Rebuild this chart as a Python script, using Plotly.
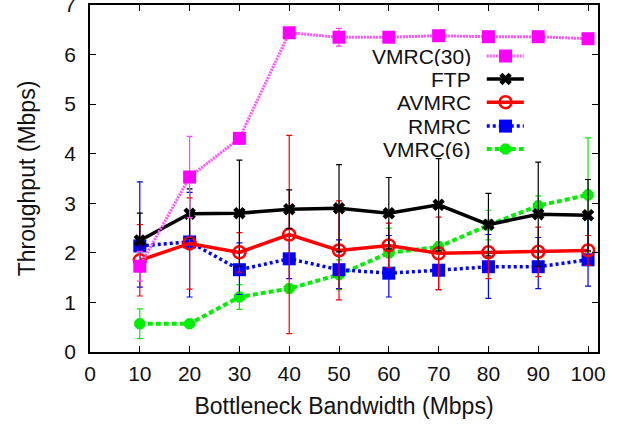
import plotly.graph_objects as go

# ---------------- data ----------------
bandwidth = [10, 20, 30, 40, 50, 60, 70, 80, 90, 100]

vmrc30 = [1.73, 3.53, 4.31, 6.44, 6.35, 6.35, 6.38, 6.36, 6.36, 6.32]
vmrc30_err = [0.30, 0.82, 0.10, 0.05, 0.18, 0.10, 0.06, 0.05, 0.05, 0.08]

ftp = [2.25, 2.79, 2.80, 2.88, 2.90, 2.80, 2.97, 2.57, 2.78, 2.76]
ftp_err = [0.55, 0.50, 1.07, 0.39, 0.88, 0.72, 0.93, 0.63, 1.05, 0.72]

avmrc = [1.85, 2.19, 2.01, 2.37, 2.05, 2.15, 1.99, 2.01, 2.02, 2.05]
avmrc_err = [0.72, 0.92, 0.40, 2.00, 1.00, 0.45, 0.73, 0.53, 0.50, 0.30]

rmrc = [2.14, 2.22, 1.66, 1.88, 1.66, 1.59, 1.65, 1.72, 1.72, 1.86]
rmrc_plus = [1.29, 1.00, 0.54, 0.47, 0.60, 0.76, 0.45, 0.65, 0.59, 0.95]
rmrc_minus = [0.83, 1.11, 0.50, 0.40, 0.38, 0.48, 0.39, 0.64, 0.44, 0.53]

vmrc6 = [0.57, 0.57, 1.11, 1.28, 1.56, 2.00, 2.12, 2.56, 2.95, 3.17]
vmrc6_err = [0.30, 0.05, 0.25, 0.05, 0.30, 0.50, 0.10, 0.30, 0.20, 1.15]

x_ticks = [0, 10, 20, 30, 40, 50, 60, 70, 80, 90, 100]
y_ticks = [0, 1, 2, 3, 4, 5, 6, 7]

FONT = "Liberation Sans, Arial, sans-serif"
TXT = "#111111"

series = [
    dict(name="VMRC(30)", y=vmrc30, plus=vmrc30_err, minus=vmrc30_err,
         color="#ff44ff", line=dict(color="#ff55ff", width=3, dash="2px,1px"),
         marker=dict(symbol="square", size=13, color="#ff00ff")),
    dict(name="FTP", y=ftp, plus=ftp_err, minus=ftp_err,
         color="#000000", line=dict(color="#000000", width=3.5),
         marker=dict(symbol="x", size=11, color="#000000")),
    dict(name="AVMRC", y=avmrc, plus=avmrc_err, minus=avmrc_err,
         color="#ff0000", line=dict(color="#ff0000", width=3.5),
         marker=dict(symbol="circle-open", size=12, color="#ff0000",
                     line=dict(width=2.5, color="#ff0000"))),
    dict(name="RMRC", y=rmrc, plus=rmrc_plus, minus=rmrc_minus,
         color="#0000ff", line=dict(color="#0000ff", width=3.5, dash="3px,3px"),
         marker=dict(symbol="square", size=13, color="#0000ff")),
    dict(name="VMRC(6)", y=vmrc6, plus=vmrc6_err, minus=vmrc6_err,
         color="#00ee00", line=dict(color="#00ee00", width=4, dash="5px,3px"),
         marker=dict(symbol="octagon", size=12, color="#00ee00")),
]

fig = go.Figure()

# draw in back-to-front order similar to the reference
for s in [series[4], series[3], series[2], series[1], series[0]]:
    fig.add_trace(go.Scatter(
        x=bandwidth, y=s["y"], mode="lines+markers", name=s["name"],
        line=s["line"], marker=s["marker"], showlegend=False,
        error_y=dict(type="data", symmetric=False, array=s["plus"],
                     arrayminus=s["minus"], color=s["color"],
                     thickness=1.2, width=3),
    ))

# ---------------- gnuplot-style legend (text left, sample right) ----------------
leg_rows = [0.853, 0.787, 0.720, 0.651, 0.585]
for s, yy in zip(series, leg_rows):
    fig.add_trace(go.Scatter(
        x=[0.781, 0.818, 0.854], y=[yy, yy, yy], xaxis="x2", yaxis="y2",
        mode="lines", line=s["line"], showlegend=False, hoverinfo="skip"))
    fig.add_trace(go.Scatter(
        x=[0.818], y=[yy], xaxis="x2", yaxis="y2",
        mode="markers", marker=s["marker"], showlegend=False, hoverinfo="skip"))
    fig.add_annotation(x=0.752, y=yy, xref="x2", yref="y2", text=s["name"],
                       showarrow=False, xanchor="right", yanchor="middle",
                       height=20, borderpad=0,
                       font=dict(family=FONT, size=21, color=TXT))

axis_common = dict(
    showline=True, linecolor="black", linewidth=1.5, mirror="ticks",
    ticks="inside", ticklen=6, tickcolor="black", tickwidth=1,
    showgrid=False, zeroline=False, ticklabeloverflow="allow",
    automargin=False,
    tickfont=dict(family=FONT, size=21, color=TXT),
)

fig.update_layout(
    width=619, height=427,
    margin=dict(l=90, r=21, t=5, b=75),
    paper_bgcolor="white", plot_bgcolor="white",
    showlegend=False,
    xaxis=dict(range=[0, 102], tickvals=x_ticks, ticklabelstandoff=2, **axis_common,
               title=dict(text="Bottleneck Bandwidth (Mbps)", standoff=14,
                          font=dict(family=FONT, size=23, color=TXT))),
    yaxis=dict(range=[0, 7], tickvals=y_ticks, ticklabelstandoff=8, **axis_common,
               title=dict(text="Throughput (Mbps)", standoff=22,
                          font=dict(family=FONT, size=23, color=TXT))),
    xaxis2=dict(range=[0, 1], overlaying="x", visible=False, fixedrange=True),
    yaxis2=dict(range=[0, 1], overlaying="y", visible=False, fixedrange=True),
)

fig.write_html("out.html")
